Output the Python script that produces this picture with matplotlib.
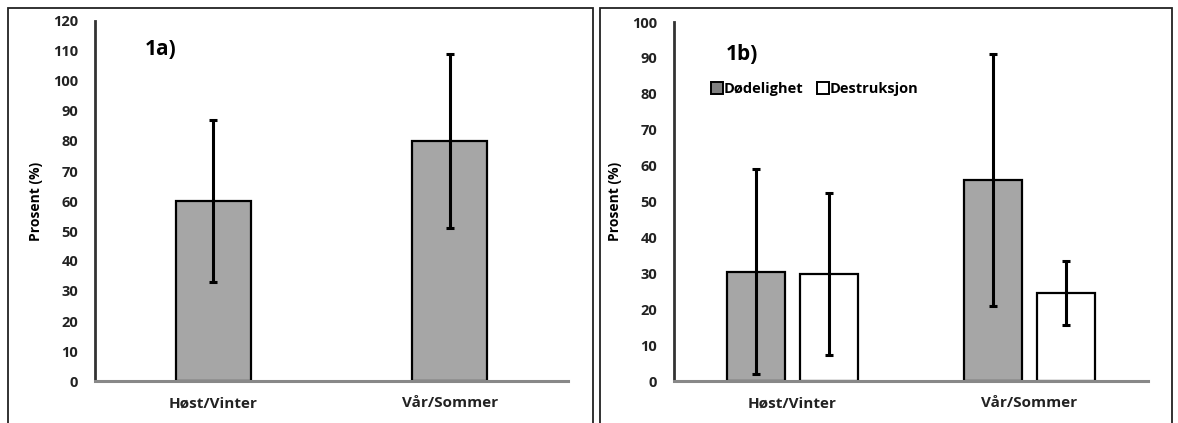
import matplotlib.pyplot as plt
from matplotlib.patches import Rectangle
from matplotlib.lines import Line2D

plt.rcParams['font.family'] = ['Open Sans', 'DejaVu Sans']
plt.rcParams['font.weight'] = 'bold'

# data
seasons = ['Høst/Vinter', 'Vår/Sommer']
a_vals = [60, 80]
a_err = [27, 29]
b_dod = [30.5, 56]
b_dod_err = [28.5, 35]
b_des = [29.8, 24.5]
b_des_err = [22.5, 9]

W, H = 1178, 423
fig = plt.figure(figsize=(W / 100, H / 100), dpi=100)

# panel frames (figure pixels)
for x0, x1 in [(8, 593), (600, 1172)]:
    fig.add_artist(Rectangle((x0 / W, -0.05), (x1 - x0) / W, (H - 8) / H + 0.05,
                             transform=fig.transFigure, fill=False, ec='#222222', lw=1.3))

gray = '#a6a6a6'
eb = dict(ecolor='black', elinewidth=2.2, capsize=3, capthick=2.2)


def style(ax, top, step):
    ax.set_xlim(-0.5, 1.5)
    ax.set_ylim(0, top)
    ax.set_yticks(range(0, top + 1, step))
    ax.set_xticks([0, 1])
    ax.set_xticklabels(seasons)
    for s in ['top', 'right']:
        ax.spines[s].set_visible(False)
    ax.spines['left'].set_color('#333333')
    ax.spines['left'].set_linewidth(2)
    ax.spines['bottom'].set_color('#888888')
    ax.spines['bottom'].set_linewidth(2.2)
    ax.tick_params(axis='y', length=0, labelsize=10.5, pad=12)
    ax.tick_params(axis='x', length=0, labelsize=11, pad=11)
    for lab in ax.get_xticklabels() + ax.get_yticklabels():
        lab.set_fontweight('bold')
        lab.set_color('#222222')
    ax.set_ylabel('Prosent (%)', fontsize=10, fontweight='bold', labelpad=7)


# 1a
ax1 = fig.add_axes([95 / W, 42 / H, 473 / W, 360 / H])
ax1.bar([0, 1], a_vals, width=0.317, color=gray, edgecolor='black', lw=1.6,
        yerr=a_err, error_kw=eb, zorder=2)
style(ax1, 120, 10)
ax1.text(0.105, 0.905, '1a)', transform=ax1.transAxes, fontsize=15, fontweight='bold')

# 1b
ax2 = fig.add_axes([674 / W, 42 / H, 474 / W, 359 / H])
off = 0.154
w = 0.245
ax2.bar([-off, 1 - off], b_dod, width=w, color=gray, edgecolor='black', lw=1.6,
        yerr=b_dod_err, error_kw=eb, zorder=2, label='Dødelighet')
ax2.bar([off, 1 + off], b_des, width=w, color='white', edgecolor='black', lw=1.6,
        yerr=b_des_err, error_kw=eb, zorder=2, label='Destruksjon')
style(ax2, 100, 10)
ax2.text(0.11, 0.895, '1b)', transform=ax2.transAxes, fontsize=15, fontweight='bold')

handles = [Line2D([], [], marker='s', ls='', markersize=9, markerfacecolor=c,
                  markeredgecolor='black', markeredgewidth=1.4) for c in ['#808080', 'white']]
ax2.legend(handles, ['Dødelighet', 'Destruksjon'], loc='upper left',
           bbox_to_anchor=(0.05, 0.87), ncol=2, frameon=False,
           handletextpad=0.05, columnspacing=1.0, handlelength=0.8,
           prop={'weight': 'bold', 'size': 10.5})

fig.savefig('out.png', dpi=100)
